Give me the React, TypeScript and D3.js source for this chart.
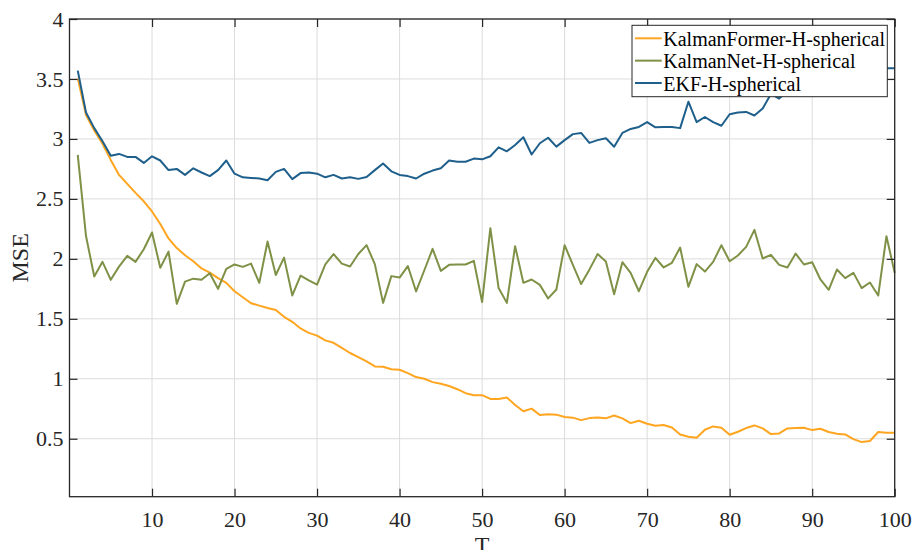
import React, { useRef, useEffect } from 'react';
import * as d3 from 'd3';

const steps = d3.range(1, 101);

const kalmanFormer = [
  3.505, 3.2, 3.07, 2.96, 2.825, 2.7, 2.625, 2.55, 2.48, 2.395,
  2.29, 2.17, 2.09, 2.03, 1.98, 1.92, 1.885, 1.84, 1.8, 1.73,
  1.68, 1.63, 1.61, 1.59, 1.573, 1.517, 1.475, 1.42, 1.383, 1.36,
  1.32, 1.3, 1.257, 1.215, 1.18, 1.145, 1.103, 1.1, 1.08, 1.075,
  1.047, 1.014, 1.0, 0.972, 0.958, 0.94, 0.913, 0.88, 0.863, 0.863,
  0.832, 0.832, 0.844, 0.782, 0.729, 0.751, 0.698, 0.704, 0.701, 0.682,
  0.676, 0.655, 0.672, 0.678, 0.67, 0.694, 0.67, 0.63, 0.65, 0.625,
  0.608, 0.614, 0.594, 0.536, 0.517, 0.508, 0.575, 0.603, 0.592, 0.533,
  0.558, 0.589, 0.611, 0.586, 0.539, 0.544, 0.586, 0.589, 0.592, 0.572,
  0.583, 0.556, 0.542, 0.536, 0.497, 0.472, 0.481, 0.556, 0.55, 0.55,
];

const kalmanNet = [
  2.867, 2.19, 1.853, 1.975, 1.825, 1.935, 2.025, 1.975, 2.08, 2.22,
  1.925, 2.06, 1.625, 1.81, 1.835, 1.825, 1.88, 1.75, 1.917, 1.953,
  1.933, 1.96, 1.8, 2.145, 1.865, 2.01, 1.695, 1.86, 1.82, 1.785,
  1.953, 2.04, 1.96, 1.936, 2.04, 2.114, 1.956, 1.633, 1.856, 1.844,
  1.94, 1.728, 1.905, 2.083, 1.9, 1.95, 1.953, 1.953, 1.983, 1.64,
  2.256, 1.756, 1.633, 2.106, 1.8, 1.828, 1.783, 1.67, 1.744, 2.114,
  1.95, 1.79, 1.91, 2.04, 1.978, 1.705, 1.972, 1.883, 1.73, 1.892,
  2.008, 1.928, 1.967, 2.094, 1.767, 1.956, 1.894, 1.975, 2.114, 1.98,
  2.028, 2.1, 2.242, 2.003, 2.033, 1.95, 1.928, 2.044, 1.953, 1.972,
  1.828, 1.742, 1.911, 1.839, 1.883, 1.756, 1.803, 1.694, 2.189, 1.883,
];

const ekf = [
  3.57, 3.22, 3.09, 2.98, 2.86, 2.875, 2.85, 2.85, 2.8, 2.855,
  2.82, 2.74, 2.75, 2.7, 2.755, 2.72, 2.69, 2.74, 2.82, 2.71,
  2.68, 2.675, 2.67, 2.655, 2.725, 2.75, 2.665, 2.715, 2.72, 2.71,
  2.68, 2.7, 2.67, 2.68, 2.667, 2.683, 2.74, 2.795, 2.73, 2.7,
  2.69, 2.67, 2.71, 2.736, 2.755, 2.82, 2.81, 2.81, 2.836, 2.83,
  2.856, 2.93, 2.897, 2.95, 3.014, 2.87, 2.964, 3.01, 2.936, 2.99,
  3.04, 3.05, 2.967, 2.99, 3.006, 2.935, 3.05, 3.083, 3.1, 3.14,
  3.097, 3.1, 3.1, 3.09, 3.31, 3.14, 3.183, 3.14, 3.11, 3.206,
  3.22, 3.225, 3.195, 3.253, 3.375, 3.336, 3.4, 3.45, 3.43, 3.48,
  3.5, 3.47, 3.52, 3.55, 3.53, 3.57, 3.56, 3.59, 3.59, 3.59,
];

const seriesNames = ['KalmanFormer-H-spherical', 'KalmanNet-H-spherical', 'EKF-H-spherical'];
const seriesColors = ['#FFA51F', '#7E9146', '#1F5F8B'];
const seriesValues = [kalmanFormer, kalmanNet, ekf];

const xTicks = d3.range(10, 101, 10);
const yTicks = [0.5, 1, 1.5, 2, 2.5, 3, 3.5, 4];

const FONT = '"Liberation Serif", "Times New Roman", serif';
const INK = '#262626';

export default function App() {
  const ref = useRef(null);

  useEffect(() => {
    const width = 912;
    const height = 550;
    const margin = { top: 19, right: 17.3, bottom: 53.3, left: 69.5 };

    const svg = d3
      .select(ref.current)
      .call((g) => g.select('svg').remove())
      .append('svg')
      .attr('width', width)
      .attr('height', height)
      .style('position', 'absolute')
      .style('left', 0)
      .style('top', 0)
      .style('font-family', FONT);

    const x = d3.scaleLinear().domain([0, 100]).range([margin.left, width - margin.right]);
    const y = d3.scaleLinear().domain([0.0167, 4]).range([height - margin.bottom, margin.top]);

    const [x0, x1] = x.range();
    const [y0, y1] = y.range();

    svg.append('rect')
      .attr('x', x0).attr('y', y1)
      .attr('width', x1 - x0).attr('height', y0 - y1)
      .attr('fill', '#fff');

    // grid
    const grid = svg.append('g').attr('stroke', '#dcdcdc').attr('stroke-width', 1);
    xTicks.forEach((t) => {
      grid.append('line').attr('x1', x(t)).attr('x2', x(t)).attr('y1', y0).attr('y2', y1);
    });
    yTicks.forEach((t) => {
      grid.append('line').attr('x1', x0).attr('x2', x1).attr('y1', y(t)).attr('y2', y(t));
    });

    // lines
    seriesValues.forEach((vals, i) => {
      const line = d3.line<number>()
        .x((_, j) => x(steps[j]))
        .y((v) => y(v));
      svg.append('path')
        .attr('fill', 'none')
        .attr('stroke', seriesColors[i])
        .attr('stroke-width', 2)
        .attr('stroke-linejoin', 'round')
        .attr('d', line(vals));
    });

    // box + inner ticks
    const tickLen = 8;
    const fmt = (d) => String(d);
    svg.append('g')
      .attr('transform', `translate(0, ${y0})`)
      .call(d3.axisBottom(x).tickValues(xTicks).tickSizeInner(-tickLen).tickSizeOuter(0).tickPadding(15).tickFormat(fmt))
      .call((g) => g.select('.domain').remove());
    svg.append('g')
      .attr('transform', `translate(0, ${y1})`)
      .call(d3.axisTop(x).tickValues(xTicks).tickSizeInner(-tickLen).tickSizeOuter(0).tickFormat(() => ''))
      .call((g) => g.select('.domain').remove());
    svg.append('g')
      .attr('transform', `translate(${x0}, 0)`)
      .call(d3.axisLeft(y).tickValues(yTicks).tickSizeInner(-tickLen).tickSizeOuter(0).tickPadding(6).tickFormat(fmt))
      .call((g) => g.select('.domain').remove());
    svg.append('g')
      .attr('transform', `translate(${x1}, 0)`)
      .call(d3.axisRight(y).tickValues(yTicks).tickSizeInner(-tickLen).tickSizeOuter(0).tickFormat(() => ''))
      .call((g) => g.select('.domain').remove());

    svg.selectAll('.tick line').attr('stroke', INK).attr('stroke-width', 1.2);
    svg.selectAll('.tick text')
      .attr('fill', INK)
      .style('font-family', FONT)
      .style('font-size', '22px');

    svg.append('rect')
      .attr('x', x0).attr('y', y1)
      .attr('width', x1 - x0).attr('height', y0 - y1)
      .attr('fill', 'none')
      .attr('stroke', INK)
      .attr('stroke-width', 1.3);

    // axis labels
    svg.append('text')
      .attr('x', (x0 + x1) / 2)
      .attr('y', 553)
      .attr('text-anchor', 'middle')
      .attr('fill', INK)
      .style('font-size', '24px')
      .text('T');

    svg.append('text')
      .attr('transform', `translate(28, ${(y0 + y1) / 2}) rotate(-90)`)
      .attr('text-anchor', 'middle')
      .attr('fill', INK)
      .style('font-size', '24px')
      .text('MSE');

    // legend
    const legend = svg.append('g').attr('transform', 'translate(632, 25.3)');
    legend.append('rect')
      .attr('width', 255.3)
      .attr('height', 71.4)
      .attr('fill', '#fff')
      .attr('stroke', INK)
      .attr('stroke-width', 1);
    seriesNames.forEach((name, i) => {
      const cy = 13 + i * 22.35;
      legend.append('line')
        .attr('x1', 3).attr('x2', 29.7)
        .attr('y1', cy).attr('y2', cy)
        .attr('stroke', seriesColors[i])
        .attr('stroke-width', 2);
      legend.append('text')
        .attr('x', 31.3)
        .attr('y', cy + 7.7)
        .attr('fill', '#000')
        .style('font-size', '20px')
        .text(name);
    });
  }, []);

  return <div ref={ref}></div>;
}
